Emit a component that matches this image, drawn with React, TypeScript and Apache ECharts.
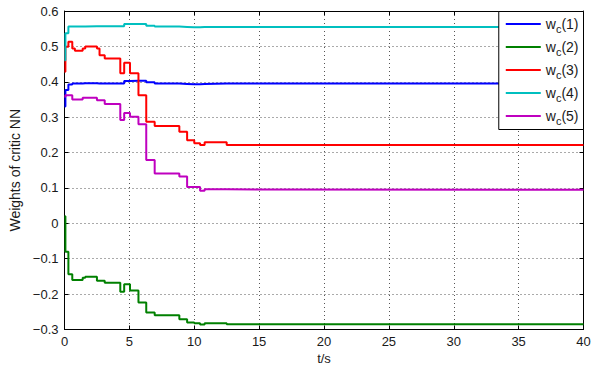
import React, { useEffect, useRef } from "react";
import * as echarts from "echarts";

// time breakpoints (s); each value holds from its time until the next one
const times = [0, 0.07, 0.3, 0.6, 0.8, 1.4, 1.6, 2.5, 2.7, 3.1, 4.3, 4.6, 5.05, 5.7, 6.3, 6.95, 8.85, 9.45, 10.0, 10.45, 10.8, 12.5, 40];

const wc1 = [0.33, 0.377, 0.392, 0.395, 0.395, 0.396, 0.396, 0.395, 0.395, 0.395, 0.395, 0.402, 0.403, 0.403, 0.399, 0.395, 0.394, 0.393, 0.393, 0.394, 0.395, 0.395, 0.395];
const wc2 = [0.02, -0.08, -0.144, -0.16, -0.16, -0.154, -0.151, -0.162, -0.162, -0.168, -0.193, -0.172, -0.19, -0.224, -0.252, -0.26, -0.271, -0.28, -0.282, -0.286, -0.282, -0.285, -0.285];
const wc3 = [0.428, 0.499, 0.513, 0.494, 0.488, 0.494, 0.5, 0.494, 0.475, 0.466, 0.424, 0.454, 0.424, 0.362, 0.287, 0.275, 0.259, 0.235, 0.226, 0.221, 0.229, 0.221, 0.221];
const wc4 = [0.461, 0.537, 0.556, 0.556, 0.556, 0.556, 0.557, 0.557, 0.557, 0.557, 0.557, 0.563, 0.563, 0.563, 0.558, 0.556, 0.555, 0.554, 0.554, 0.555, 0.555, 0.555, 0.555];
const wc5 = [0.358, 0.362, 0.362, 0.35, 0.35, 0.355, 0.355, 0.348, 0.348, 0.337, 0.292, 0.312, 0.301, 0.28, 0.179, 0.141, 0.132, 0.103, 0.103, 0.092, 0.096, 0.095, 0.095];

const seriesNames = ["w_c(1)", "w_c(2)", "w_c(3)", "w_c(4)", "w_c(5)"];
const seriesValues = [wc1, wc2, wc3, wc4, wc5];
const seriesColors = ["#0000ff", "#008000", "#ff0000", "#00bfbf", "#bf00bf"];

const xMin = 0, xMax = 40, xStep = 5;
const yMin = -0.3, yMax = 0.6, yStep = 0.1;

const FONT = "'Liberation Sans', Arial, Helvetica, sans-serif";

export default function App() {
  const ref = useRef<HTMLDivElement>(null);
  useEffect(() => {
    if (!ref.current) return;
    const chart = echarts.init(ref.current, null, { renderer: "svg" });
    const fmtY = (v: number) => {
      const r = Math.round(v * 10) / 10;
      return String(r).replace("-", "\u2212");
    };
    const baseX = {
      type: "value" as const,
      min: xMin,
      max: xMax,
      interval: xStep,
    };
    const baseY = {
      type: "value" as const,
      min: yMin,
      max: yMax,
      interval: yStep,
    };
    const option: any = {
      animation: false,
      backgroundColor: "#fff",
      grid: { left: 64.5, right: 23.5, top: 11, bottom: 37.5, containLabel: false, outerBoundsMode: "none" },
      xAxis: [
        {
          ...baseX,
          position: "bottom",
          name: "t/s",
          nameLocation: "middle",
          nameGap: 20,
          nameTextStyle: { fontFamily: FONT, fontSize: 13, color: "#1a1a1a" },
          axisLine: { show: true, onZero: false, lineStyle: { color: "#000", width: 1 } },
          axisTick: { show: true, inside: true, length: 4, lineStyle: { color: "#000" } },
          axisLabel: { fontFamily: FONT, fontSize: 13, color: "#1a1a1a", margin: 5 },
          splitLine: { show: true, lineStyle: { color: "#555", width: 1, type: [1, 3] } },
        },
        {
          ...baseX,
          position: "top",
          axisLine: { show: true, onZero: false, lineStyle: { color: "#000", width: 1 } },
          axisTick: { show: true, inside: true, length: 4, lineStyle: { color: "#000" } },
          axisLabel: { show: false },
          splitLine: { show: false },
        },
      ],
      yAxis: [
        {
          ...baseY,
          position: "left",
          name: "Weights of critic NN",
          nameLocation: "middle",
          nameGap: 36,
          nameTextStyle: { fontFamily: FONT, fontSize: 14, color: "#1a1a1a" },
          axisLine: { show: true, onZero: false, lineStyle: { color: "#000", width: 1 } },
          axisTick: { show: true, inside: true, length: 4, lineStyle: { color: "#000" } },
          axisLabel: { fontFamily: FONT, fontSize: 13, color: "#1a1a1a", margin: 6, formatter: fmtY },
          splitLine: { show: true, lineStyle: { color: "#555", width: 1, type: [1, 3] } },
        },
        {
          ...baseY,
          position: "right",
          axisLine: { show: true, onZero: false, lineStyle: { color: "#000", width: 1 } },
          axisTick: { show: true, inside: true, length: 4, lineStyle: { color: "#000" } },
          axisLabel: { show: false },
          splitLine: { show: false },
        },
      ],
      legend: {
        orient: "vertical",
        right: 23.5,
        top: 11.5,
        backgroundColor: "#fff",
        borderColor: "#000",
        borderWidth: 1,
        borderRadius: 0,
        padding: [2, 5, 3, 7],
        itemGap: 2,
        itemWidth: 35,
        itemHeight: 2,
        icon: "rect",
        data: seriesNames,
        formatter: (name: string) => `{w|w}{c|c}{p|${name.slice(3)}}`,
        textStyle: {
          fontFamily: FONT,
          color: "#1a1a1a",
          rich: {
            w: { fontFamily: FONT, fontSize: 14, lineHeight: 16, color: "#1a1a1a" },
            c: { fontFamily: FONT, fontSize: 11, lineHeight: 12, padding: [10, 0, 0, 0], color: "#1a1a1a" },
            p: { fontFamily: FONT, fontSize: 14, lineHeight: 16, color: "#1a1a1a" },
          },
        },
      },
      series: seriesNames.map((name, i) => ({
        name,
        type: "line",
        xAxisIndex: 0,
        yAxisIndex: 0,
        step: "end",
        showSymbol: false,
        symbol: "none",
        color: seriesColors[i],
        lineStyle: { width: 2, color: seriesColors[i] },
        data: times.map((t, j) => [t, seriesValues[i][j]]),
      })),
    };
    chart.setOption(option);
    return () => chart.dispose();
  }, []);
  return (
    <div
      ref={ref}
      style={{ position: "absolute", left: 0, top: 0, width: 607, height: 367 }}
    />
  );
}
